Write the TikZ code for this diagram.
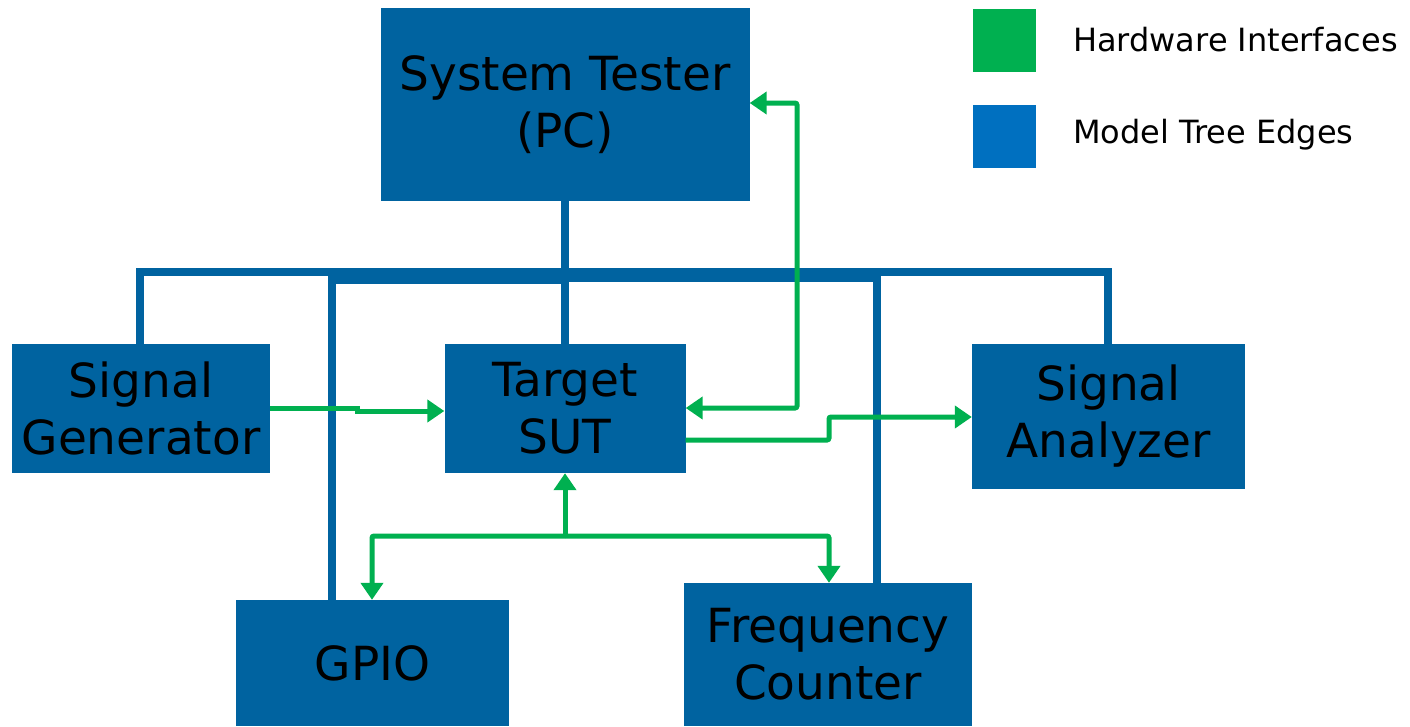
\documentclass[tikz,border=0pt]{standalone}
\usepackage{fontspec}
\setmainfont{DejaVu Sans}
\usetikzlibrary{arrows.meta}
\definecolor{boxblue}{HTML}{0063A0}
\definecolor{legblue}{HTML}{0070C0}
\definecolor{hwgreen}{HTML}{00B050}
\begin{document}
\begin{tikzpicture}[x=1pt,y=-1pt,
  box/.style={fill=boxblue,draw=none,inner sep=0pt,align=center,font=\fontsize{47}{57}\selectfont},
  tree/.style={draw=boxblue,line width=8pt},
  hw/.style={draw=hwgreen,line width=5pt,rounded corners=2pt},
  tip/.style={-{Triangle[length=17pt,width=22pt]}},
  tips/.style={{Triangle[length=17pt,width=22pt]}-{Triangle[length=17pt,width=22pt]}},
  legtext/.style={anchor=west,inner sep=0pt,font=\fontsize{32}{38}\selectfont}]
\useasboundingbox (0,0) rectangle (1410,726);
% boxes
\node[box,minimum width=369pt,minimum height=193pt] (pc) at (565,104.5) {System Tester\\(PC)};
\node[box,minimum width=258pt,minimum height=129pt] (sg) at (141,408.5) {Signal\\Generator};
\node[box,minimum width=241pt,minimum height=129pt] (sut) at (565,408.5) {Target\\SUT};
\node[box,minimum width=273pt,minimum height=145pt] (sa) at (1108.5,416.5) {Signal\\Analyzer};
\node[box,minimum width=273pt,minimum height=126pt] (gpio) at (372.5,663) {GPIO};
\node[box,minimum width=288pt,minimum height=143pt] (fc) at (828,654.5) {Frequency\\Counter};
% legend
\node[fill=hwgreen,minimum width=63pt,minimum height=63pt,inner sep=0pt] (lg) at (1004.5,40.5) {};
\node[fill=legblue,minimum width=63pt,minimum height=63pt,inner sep=0pt] (lb) at (1004.5,136.5) {};
\node[legtext] (lgt) at (1073,40) {Hardware Interfaces};
\node[legtext] (lbt) at (1073,135) {Model Tree Edges};
% tree edges
\coordinate (top) at (pc.south);
\draw[tree] (top) -- (565,272) -| (sg.north -| 140,0);
\draw[tree] (top) -- (565,272) -| (1108,0 |- sa.north);
\draw[tree] (top) -- (565,280) -| (gpio.north -| 332,0);
\draw[tree] (top) -- (565,278) -| (fc.north -| 877,0);
\draw[tree] (top) -- (sut.north);
% hardware interfaces
\draw[hw,rounded corners=0pt,tip] (sg.east |- 0,408) -- (357,408) -- (357,411) -- (sut.west |- 0,411);
\draw[hw,tips] (sut.east |- 0,408) -- (797,408) -- (797,103) -- (pc.east |- 0,103);
\draw[hw,tip] (sut.east |- 0,440) -- (829,440) -- (829,417) -- (sa.west |- 0,417);
\coordinate (split) at (565,536);
\draw[hw,tip] (split) -- (sut.south);
\draw[hw,tip] (split) -- (372,536) -- (gpio.north -| 372,0);
\draw[hw,tip] (split) -- (829,536) -- (fc.north -| 829,0);
\end{tikzpicture}
\end{document}
